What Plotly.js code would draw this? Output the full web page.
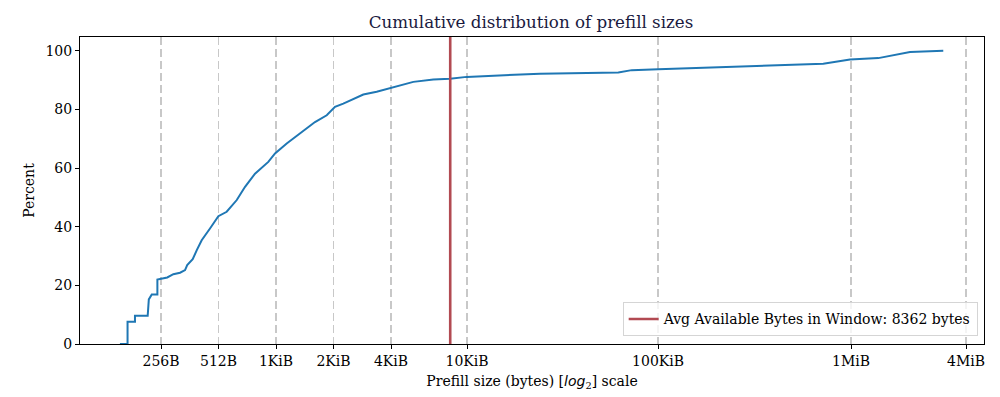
<!DOCTYPE html>
<html>
<head>
<meta charset="utf-8">
<script src="https://cdn.plot.ly/plotly-3.0.1.min.js"></script>
<style>html,body{margin:0;padding:0;background:#fff}#chart{width:1000px;height:397px}</style>
</head>
<body>
<div id="chart"></div>
<script>
// CDF of prefill sizes (bytes vs cumulative percent)
const sizesBytes = [156,171,171,187,187,218,221,229,245,245,276,297,322,342,351,375,394,418,462,511,565,638,705,749,795,933,1012,1165,1367,1638,1887,2085,2304,2933,3446,4131,5359,6820,8341,10202,24680,63440,74550,102760,169900,310300,750600,1036000,1457000,2135000,3189000];
const cumPercent = [0,0,7.6,7.6,9.6,9.6,15.2,16.9,16.9,22.0,22.7,23.8,24.3,25.2,26.9,28.9,32.0,35.4,39.4,43.6,45.1,49.1,53.6,55.9,58.1,62.1,65.0,68.4,71.8,75.7,78.0,80.9,82.0,85.1,86.0,87.3,89.4,90.2,90.5,91.1,92.2,92.6,93.4,93.7,94.2,94.7,95.6,97.0,97.5,99.6,100];
const avgWindowBytes = 8362;
const tickVals = [256,512,1024,2048,4096,10240,102400,1048576,4194304];
const tickText = ["256B","512B","1KiB","2KiB","4KiB","10KiB","100KiB","1MiB","4MiB"];
const yTicks = [0,20,40,60,80,100];

const font = "DejaVu Serif, serif";
const traces = [
  {x: sizesBytes, y: cumPercent, type: "scatter", mode: "lines",
   line: {color: "#1f77b4", width: 2}, showlegend: false, hoverinfo: "skip"},
  {x: [avgWindowBytes, avgWindowBytes], y: [-10, 200], type: "scatter", mode: "lines",
   line: {color: "#b24a52", width: 2.6},
   name: "Avg Available Bytes in Window: " + avgWindowBytes + " bytes"}
];
const layout = {
  width: 1000, height: 397,
  margin: {l: 80, r: 16, t: 37, b: 53},
  paper_bgcolor: "#fff", plot_bgcolor: "#fff",
  font: {family: font, size: 14, color: "#000"},
  title: {text: "Cumulative distribution of prefill sizes", font: {family: font, size: 16.7, color: "#1a1a40"},
          x: 0.531, xanchor: "center", y: 0.945, yanchor: "middle"},
  xaxis: {type: "log", range: [Math.log10(96.4), Math.log10(5.21e6)],
    tickvals: tickVals, ticktext: tickText, ticks: "outside", ticklen: 4, tickcolor: "#000",
    showgrid: true, gridcolor: "#c8c8c8", gridwidth: 1.5, griddash: "8px,4px",
    showline: true, linecolor: "#000", linewidth: 1, mirror: true, zeroline: false,
    tickfont: {family: font, size: 14},
    title: {text: "Prefill size (bytes) [<span style=\"font-family:'DejaVu Sans'\"><i>log</i></span><sub>2</sub>] scale", font: {family: font, size: 14}, standoff: 8}},
  yaxis: {range: [0, 104.7], tickvals: yTicks, ticks: "outside", ticklen: 4, tickcolor: "#000",
    showgrid: false, showline: true, linecolor: "#000", linewidth: 1, mirror: true, zeroline: false,
    tickfont: {family: font, size: 14},
    title: {text: "Percent", font: {family: font, size: 14}, standoff: 7}},
  legend: {x: 0.993, y: 0.025, xanchor: "right", yanchor: "bottom",
    bgcolor: "rgba(255,255,255,0.8)", bordercolor: "#d5d5d5", borderwidth: 1,
    font: {family: font, size: 14}, itemwidth: 30},
  showlegend: true
};
Plotly.newPlot("chart", traces, layout, {displayModeBar: false, staticPlot: true});
</script>
</body>
</html>
